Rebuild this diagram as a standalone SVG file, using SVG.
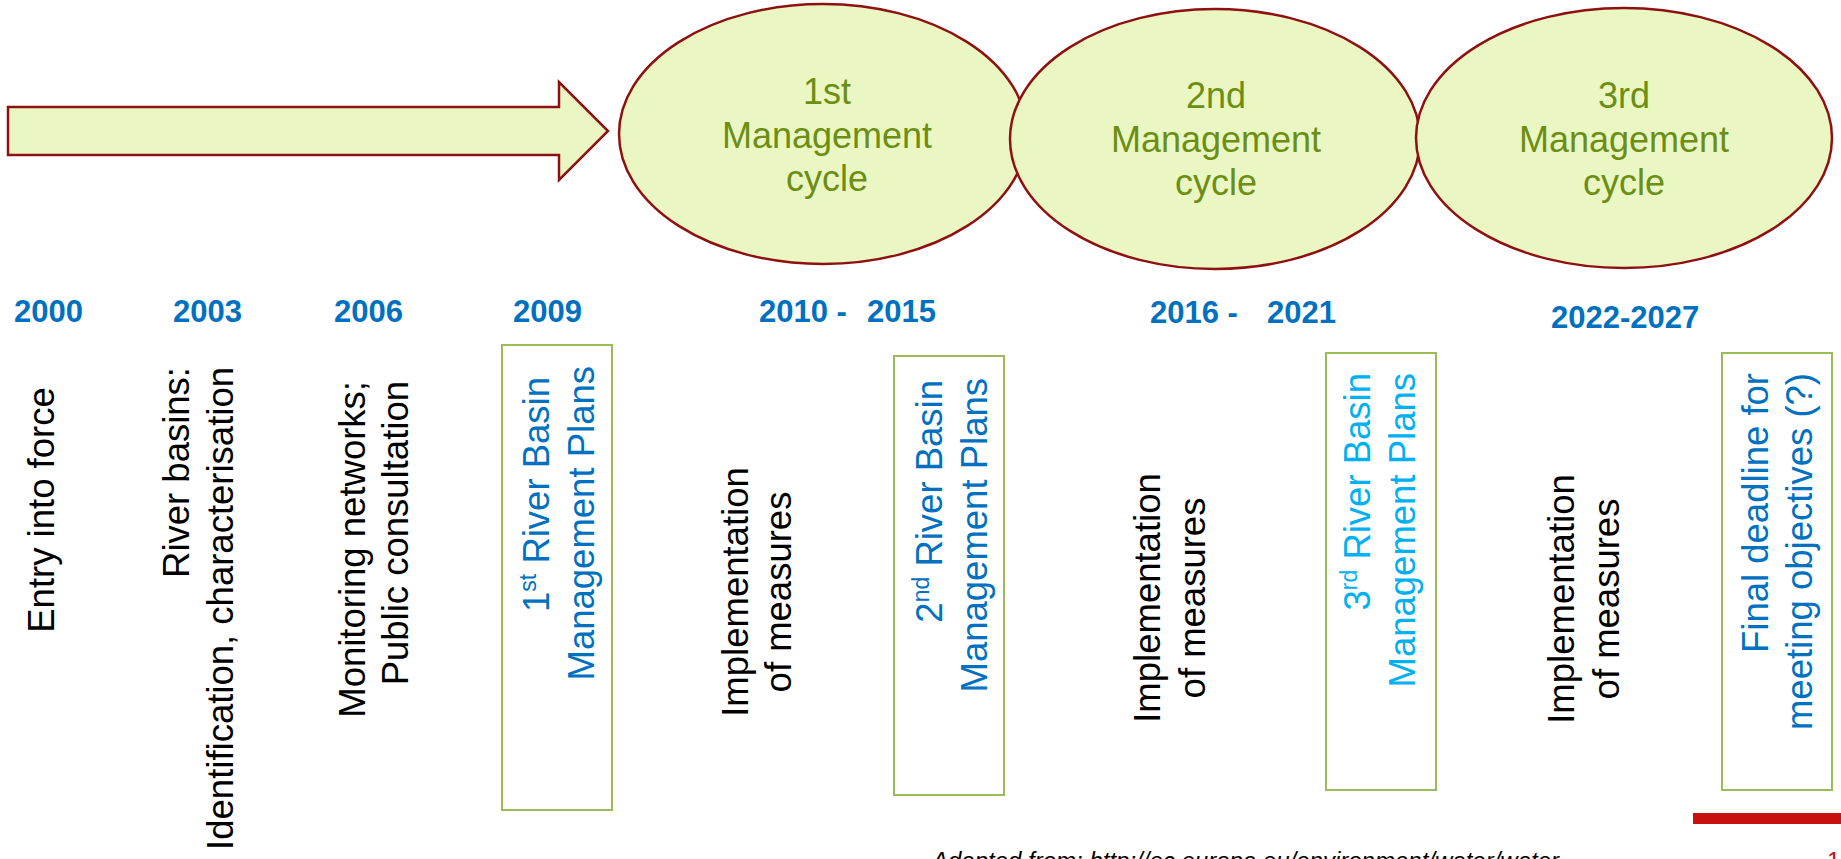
<svg xmlns="http://www.w3.org/2000/svg" width="1841" height="859" viewBox="0 0 1841 859">
<style>
.shape{fill:#EBF7C3;stroke:#8E1010;stroke-width:2.5}
.cyc{font-family:"Liberation Sans",Arial,sans-serif;font-size:36px;fill:#6B8E14;text-anchor:middle}
.yr{font-family:"Liberation Sans",Arial,sans-serif;font-size:31px;font-weight:bold;fill:#0070C0}
.vt{font-family:"Liberation Sans",Arial,sans-serif;font-size:36.5px;fill:#000000}
.box{fill:none;stroke:#9BBB59;stroke-width:2}
.blue{fill:#0070C0}
.cyan{fill:#00B0F0}
.sup{font-size:23px}
.cap{font-family:"Liberation Sans",Arial,sans-serif;font-size:24px;font-style:italic;fill:#000000}
</style>
<rect width="1841" height="859" fill="#ffffff"/>
<g id="arrow">
<path class="shape" d="M8,107 H559 V82 L608,131 L559,180 V155 H8 Z"/>
</g>
<g id="cycle1">
<ellipse class="shape" cx="823" cy="134" rx="204" ry="130"/>
<text class="cyc" x="827" y="104">1st</text>
<text class="cyc" x="827" y="148">Management</text>
<text class="cyc" x="827" y="191">cycle</text>
</g>
<g id="cycle2">
<ellipse class="shape" cx="1215" cy="139" rx="205" ry="130"/>
<text class="cyc" x="1216" y="108">2nd</text>
<text class="cyc" x="1216" y="152">Management</text>
<text class="cyc" x="1216" y="195">cycle</text>
</g>
<g id="cycle3">
<ellipse class="shape" cx="1624" cy="138" rx="208" ry="130"/>
<text class="cyc" x="1624" y="108">3rd</text>
<text class="cyc" x="1624" y="152">Management</text>
<text class="cyc" x="1624" y="195">cycle</text>
</g>
<g id="years">
<text class="yr" x="14" y="322">2000</text>
<text class="yr" x="173" y="322">2003</text>
<text class="yr" x="334" y="322">2006</text>
<text class="yr" x="513" y="322">2009</text>
<text class="yr" y="322"><tspan x="759">2010 -</tspan><tspan x="867">2015</tspan></text>
<text class="yr" y="323"><tspan x="1150">2016 -</tspan><tspan x="1267">2021</tspan></text>
<text class="yr" x="1551" y="328">2022-2027</text>
</g>
<g id="entry">
<text class="vt" text-anchor="middle" transform="translate(54,510) rotate(-90)">Entry into force</text>
</g>
<g id="riverbasins">
<text class="vt" text-anchor="end" transform="translate(189,367) rotate(-90)">River basins:</text>
<text class="vt" text-anchor="end" transform="translate(233,367) rotate(-90)">Identification, characterisation</text>
</g>
<g id="monitoring">
<text class="vt" text-anchor="end" transform="translate(365,381) rotate(-90)">Monitoring networks;</text>
<text class="vt" text-anchor="end" transform="translate(408,381) rotate(-90)">Public consultation</text>
</g>
<g id="plan1">
<rect class="box" x="502" y="345" width="110" height="465"/>
<text class="vt blue" text-anchor="end" transform="translate(549,377) rotate(-90)">1<tspan class="sup" baseline-shift="super">st</tspan> River Basin</text>
<text class="vt blue" text-anchor="end" transform="translate(594,366) rotate(-90)">Management Plans</text>
</g>
<g id="impl1">
<text class="vt" text-anchor="middle" transform="translate(748,592) rotate(-90)">Implementation</text>
<text class="vt" text-anchor="middle" transform="translate(791,592) rotate(-90)">of measures</text>
</g>
<g id="plan2">
<rect class="box" x="894" y="356" width="110" height="439"/>
<text class="vt blue" text-anchor="end" transform="translate(942,380) rotate(-90)">2<tspan class="sup" baseline-shift="super">nd</tspan> River Basin</text>
<text class="vt blue" text-anchor="end" transform="translate(987,378) rotate(-90)">Management Plans</text>
</g>
<g id="impl2">
<text class="vt" text-anchor="middle" transform="translate(1160,598) rotate(-90)">Implementation</text>
<text class="vt" text-anchor="middle" transform="translate(1205,598) rotate(-90)">of measures</text>
</g>
<g id="plan3">
<rect class="box" x="1326" y="353" width="110" height="437"/>
<text class="vt cyan" text-anchor="end" transform="translate(1370,373) rotate(-90)">3<tspan class="sup" baseline-shift="super">rd</tspan> River Basin</text>
<text class="vt cyan" text-anchor="end" transform="translate(1415,373) rotate(-90)">Management Plans</text>
</g>
<g id="impl3">
<text class="vt" text-anchor="middle" transform="translate(1574,599) rotate(-90)">Implementation</text>
<text class="vt" text-anchor="middle" transform="translate(1619,599) rotate(-90)">of measures</text>
</g>
<g id="deadline">
<rect class="box" x="1722" y="353" width="110" height="437"/>
<text class="vt blue" text-anchor="end" transform="translate(1768,373) rotate(-90)">Final deadline for</text>
<text class="vt blue" text-anchor="end" transform="translate(1812,373) rotate(-90)">meeting objectives (?)</text>
</g>
<g id="footer">
<rect x="1693" y="813" width="148" height="11" fill="#C8100F"/>
<text class="cap" x="932" y="869">Adapted from: http://ec.europa.eu/environment/water/water</text>
<text x="1827" y="869" font-family="Liberation Sans, Arial, sans-serif" font-size="24" fill="#C8100F">1</text>
</g>
</svg>
